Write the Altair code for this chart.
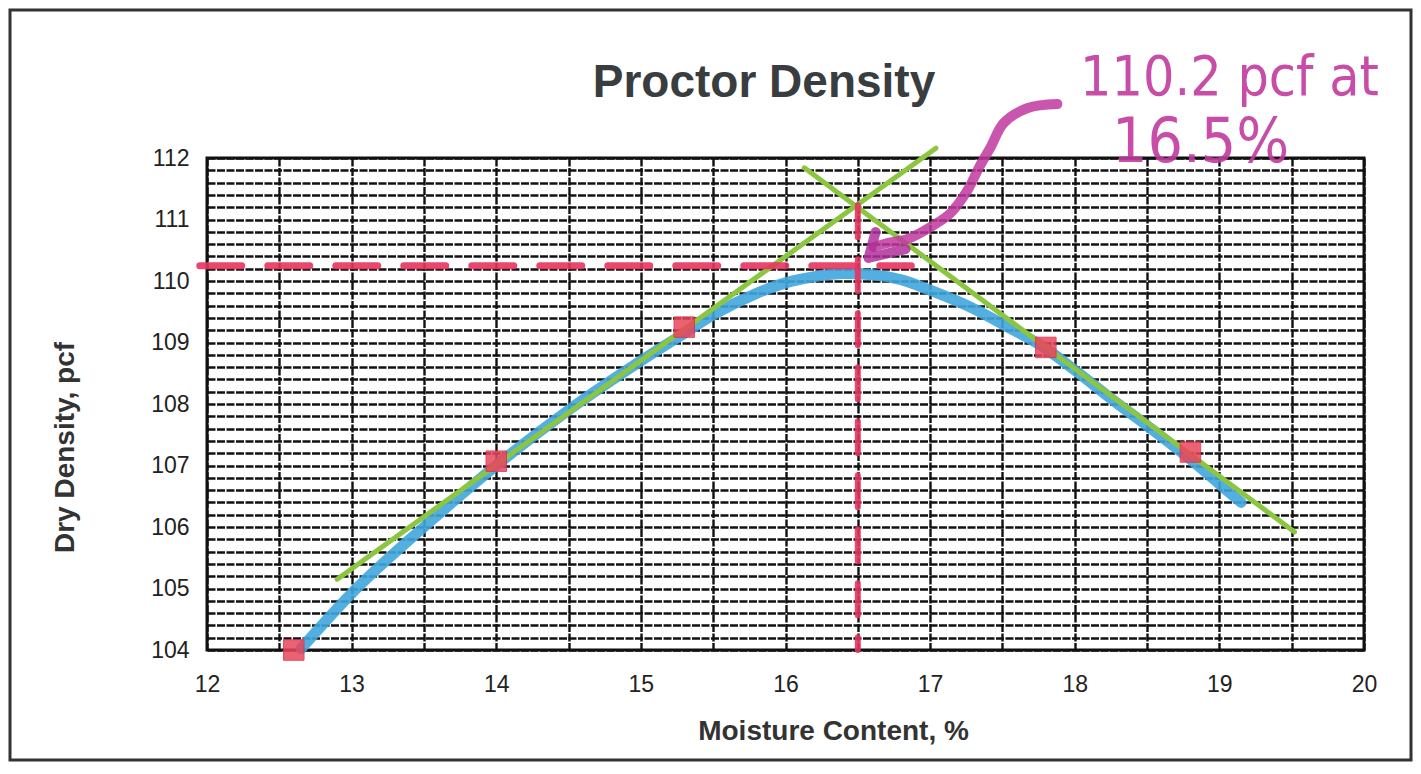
import altair as alt
import pandas as pd

# ---- data ----
moisture = [12.6, 14.0, 15.3, 17.8, 18.8]
density = [104.0, 107.07, 109.25, 108.92, 107.22]

curve_x = [12.65, 13.0, 13.5, 14.0, 14.5, 15.0, 15.3, 15.5, 15.8, 16.0, 16.2, 16.4,
           16.6, 16.8, 17.0, 17.3, 17.5, 17.8, 18.0, 18.3, 18.5, 18.8, 19.0, 19.15]
curve_y = [104.02, 104.92, 106.0, 107.0, 107.9, 108.7, 109.15, 109.45, 109.8, 109.97, 110.07, 110.12,
           110.1, 110.02, 109.85, 109.55, 109.3, 108.9, 108.55, 108.0, 107.65, 107.1, 106.7, 106.4]

tangent_x1 = [12.9, 16.13]
tangent_y1 = [105.15, 111.84]
tangent_x2 = [17.04, 19.52]
tangent_y2 = [112.16, 105.92]

max_dry_density = [110.25]
max_line_x = [11.95, 16.87]
opt_moisture = [16.5]
opt_line_y = [111.23, 104.0]

arrow_x = [17.88, 17.675, 17.509, 17.419, 17.336, 17.26, 17.142, 17.003, 16.844, 16.706, 16.609]
arrow_y = [112.878, 112.813, 112.569, 112.179, 111.837, 111.48, 111.106, 110.878, 110.683, 110.618, 110.553]
head_x = [16.623, 16.574, 16.83]
head_y = [110.797, 110.374, 110.52]

note_text = ["110.2 pcf at", "16.5%"]
note_x = [19.07, 18.87]
note_y = [113.30, 112.24]
note_size = [55, 62]

chart_title = ["Proctor Density"]

x_grid = [12 + 0.5 * i for i in range(17)]
y_grid = [round(104 + 0.2 * i, 1) for i in range(41)]

FONT = "Liberation Sans"
xs = alt.Scale(domain=[12, 20], nice=False, zero=False)
ys = alt.Scale(domain=[104, 112], nice=False, zero=False)

pts = pd.DataFrame({"x": moisture, "y": density})
curve = pd.DataFrame({"x": curve_x, "y": curve_y, "i": list(range(len(curve_x)))})
tang = pd.DataFrame({"x": tangent_x1, "y": tangent_y1, "x2": tangent_x2, "y2": tangent_y2})
hline = pd.DataFrame({"x": [max_line_x[0]], "x2": [max_line_x[1]], "y": max_dry_density})
vline = pd.DataFrame({"x": opt_moisture, "y": [opt_line_y[0]], "y2": [opt_line_y[1]]})
arrow = pd.DataFrame({"x": arrow_x, "y": arrow_y, "i": list(range(len(arrow_x)))})
head = pd.DataFrame({"x": head_x, "y": head_y, "i": list(range(len(head_x)))})
notes = pd.DataFrame({"t": note_text, "x": note_x, "y": note_y, "s": note_size})
frame = pd.DataFrame({"a": [0]})
title_df = pd.DataFrame({"t": chart_title})

x_axis = alt.Axis(values=x_grid, title="Moisture Content, %",
                  labelExpr="datum.value % 1 == 0 ? format(datum.value, 'd') : ''",
                  grid=True, gridColor="#111", gridWidth=2.4, gridDash=[8, 1.5],
                  domain=False, ticks=False, labelFont=FONT, labelFontSize=23,
                  labelColor="#222", labelPadding=23, labelFlush=False,
                  titleFont=FONT, titleFontSize=28, titleFontWeight="bold", titleColor="#333",
                  titleX=626, titleY=81, titleBaseline="middle", titleAlign="center")
y_axis = alt.Axis(values=y_grid, title="Dry Density, pcf",
                  labelExpr="abs(datum.value - round(datum.value)) < 0.01 ? format(datum.value, 'd') : ''",
                  grid=True, gridColor="#111", gridWidth=2.6, gridDash=[8, 1.5],
                  domain=False, ticks=False, labelFont=FONT, labelFontSize=23,
                  labelColor="#222", labelPadding=18, labelFlush=False,
                  titleFont=FONT, titleFontSize=28, titleFontWeight="bold", titleColor="#333",
                  titleX=-142, titleY=289, titleBaseline="middle", titleAlign="center", titleAngle=270)


def X(f="x"):
    return alt.X(f"{f}:Q", scale=xs, axis=x_axis)


def Y(f="y"):
    return alt.Y(f"{f}:Q", scale=ys, axis=y_axis)


blue = alt.Chart(curve).mark_line(color="#41a6de", strokeWidth=11, opacity=0.9,
                                  interpolate="monotone", strokeCap="round").encode(
    x=X(), y=Y(), order="i:Q")

green = alt.Chart(tang).mark_rule(color="#8cc540", strokeWidth=5, strokeCap="round").encode(
    x=X(), y=Y(), x2="x2:Q", y2="y2:Q")

squares = alt.Chart(pts).mark_square(size=420, color="#e9465c", opacity=0.85,
                                     stroke="#d9304a", strokeWidth=1).encode(x=X(), y=Y())

red_h = alt.Chart(hline).mark_rule(color="#e8335f", strokeWidth=7, strokeDash=[42, 26],
                                   strokeCap="round", opacity=0.9).encode(
    x=X(), x2="x2:Q", y=Y())

red_v = alt.Chart(vline).mark_rule(color="#e8335f", strokeWidth=6, strokeDash=[32, 22],
                                   strokeCap="round", opacity=0.9).encode(
    x=X(), y=Y(), y2="y2:Q")

mag = alt.Chart(arrow).mark_line(color="#c0389e", strokeWidth=10, opacity=0.85,
                                 interpolate="catmull-rom", strokeCap="round").encode(
    x=X(), y=Y(), order="i:Q")

mag_head = alt.Chart(head).mark_line(color="#b0309a", strokeWidth=10, opacity=0.85,
                                     strokeCap="round", strokeJoin="round").encode(
    x=X(), y=Y(), order="i:Q")

note = alt.Chart(notes).mark_text(font="Liberation Sans Narrow, DejaVu Sans Condensed, sans-serif",
                                  color="#c23aa0", opacity=0.9,
                                  align="center", baseline="middle").encode(
    x=X(), y=Y(), text="t:N", size=alt.Size("s:Q", scale=None, legend=None))

title = alt.Chart(title_df).mark_text(font=FONT, fontSize=46, fontWeight="bold", color="#3a3d40",
                                      align="center", baseline="alphabetic").encode(
    x=alt.value(557), y=alt.value(-61), text="t:N")

border = alt.Chart(frame).mark_rect(fillOpacity=0, stroke="#333", strokeWidth=3).encode(
    x=alt.value(-197), x2=alt.value(1204), y=alt.value(-148), y2=alt.value(602))

chart = alt.layer(blue, green, squares, red_h, red_v, mag, mag_head, note, title, border).properties(
    width=1157, height=492,
    padding={"left": 199, "top": 150, "right": 49, "bottom": 112},
    autosize=alt.AutoSizeParams(type="none"),
    background="white",
).configure_view(stroke="#111", strokeWidth=3)

chart.save("out.html", embed_options={"renderer": "svg", "actions": False})
